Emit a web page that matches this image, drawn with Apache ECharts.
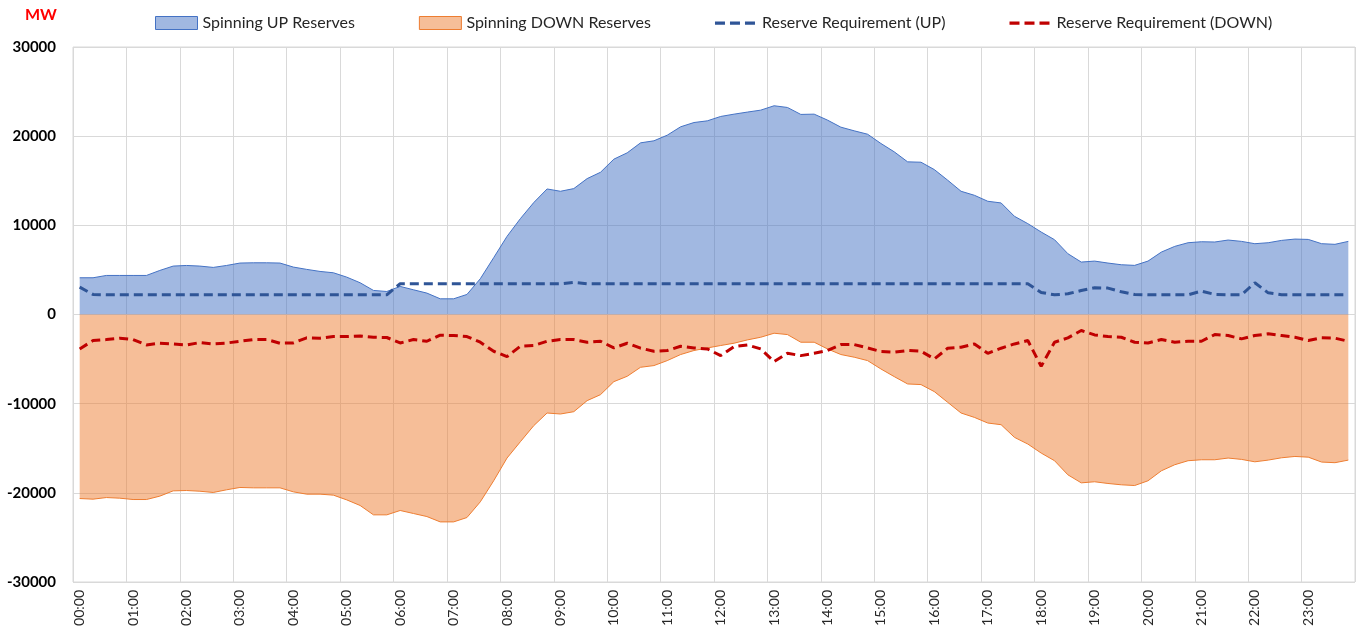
<!DOCTYPE html>
<html>
<head>
<meta charset="utf-8">
<script src="https://cdn.jsdelivr.net/npm/echarts@6/dist/echarts.min.js"></script>
<style>
  html, body { margin: 0; padding: 0; background: #fff; }
  #chart { width: 1361px; height: 635px; }
</style>
</head>
<body>
<div id="chart"></div>
<script>
// 15 minute steps, 00:00 .. 23:45
const times = []
for (let h = 0; h < 24; h++) {
  for (let m = 0; m < 60; m += 15) {
    times.push(String(h).padStart(2, '0') + ':' + String(m).padStart(2, '0'))
  }
}

const spinUp = [
  4120, 4120, 4380, 4380, 4380, 4380, 4940, 5430, 5500, 5430, 5280, 5500,
  5770, 5800, 5800, 5770, 5320, 5060, 4830, 4680, 4190, 3560, 2700, 2580,
  3150, 2770, 2400, 1760, 1760, 2250, 4010, 6370, 8760, 10750, 12550, 14080,
  13820, 14120, 15240, 15950, 17420, 18130, 19250, 19480, 20110, 21050, 21530, 21720,
  22210, 22470, 22700, 22920, 23410, 23220, 22440, 22470, 21800, 21010, 20600, 20220,
  19180, 18240, 17120, 17080, 16250, 15060, 13820, 13370, 12700, 12510, 11010, 10190,
  9250, 8390, 6820, 5880, 5990, 5770, 5580, 5510, 5990, 7000, 7640, 8050,
  8160, 8130, 8350, 8200, 7940, 8050, 8310, 8460, 8420, 7940, 7870, 8200
]

const spinDown = [
  -20640, -20710, -20530, -20600, -20750, -20750, -20370, -19780, -19740, -19820, -19960, -19660,
  -19400, -19440, -19440, -19440, -19890, -20150, -20150, -20260, -20790, -21420, -22470, -22470,
  -21980, -22320, -22660, -23260, -23260, -22770, -21010, -18650, -16100, -14270, -12470, -11050,
  -11160, -10900, -9660, -8990, -7530, -6930, -5920, -5730, -5170, -4490, -4040, -3750,
  -3480, -3220, -2850, -2550, -2100, -2250, -3110, -3110, -3860, -4490, -4790, -5170,
  -6110, -6970, -7790, -7860, -8650, -9850, -11050, -11540, -12170, -12360, -13780, -14530,
  -15540, -16400, -17980, -18880, -18760, -18950, -19100, -19180, -18650, -17530, -16850, -16400,
  -16290, -16290, -16100, -16250, -16520, -16330, -16070, -15920, -16000, -16550, -16620, -16330
]

const reqUp = [
  3070, 2250, 2210, 2210, 2210, 2210, 2210, 2210, 2210, 2210, 2210, 2210,
  2210, 2210, 2210, 2210, 2210, 2210, 2210, 2210, 2210, 2210, 2210, 2210,
  3450, 3450, 3450, 3450, 3450, 3450, 3450, 3450, 3450, 3450, 3450, 3450,
  3450, 3600, 3450, 3450, 3450, 3450, 3450, 3450, 3450, 3450, 3450, 3450,
  3450, 3450, 3450, 3450, 3450, 3450, 3450, 3450, 3450, 3450, 3450, 3450,
  3450, 3450, 3450, 3450, 3450, 3450, 3450, 3450, 3450, 3450, 3450, 3450,
  2470, 2210, 2320, 2690, 3000, 2960, 2550, 2250, 2210, 2210, 2210, 2210,
  2620, 2250, 2210, 2210, 3560, 2430, 2210, 2210, 2210, 2210, 2210, 2210
]

const reqDown = [
  -3860, -2920, -2810, -2660, -2810, -3410, -3220, -3300, -3410, -3150, -3300, -3200,
  -3000, -2810, -2810, -3220, -3190, -2620, -2660, -2470, -2470, -2400, -2550, -2580,
  -3190, -2810, -3000, -2320, -2360, -2470, -3110, -4120, -4720, -3560, -3480, -3000,
  -2810, -2810, -3110, -3000, -3750, -3220, -3780, -4120, -4040, -3560, -3750, -3860,
  -4610, -3600, -3410, -3860, -5280, -4350, -4610, -4350, -4040, -3370, -3370, -3750,
  -4160, -4230, -4040, -4120, -4980, -3780, -3670, -3300, -4350, -3780, -3300, -2920,
  -5810, -3110, -2620, -1800, -2290, -2470, -2550, -3110, -3190, -2810, -3110, -3000,
  -3000, -2250, -2360, -2730, -2360, -2170, -2360, -2550, -2920, -2620, -2660, -3000
]

const yTicks = { min: -30000, max: 30000, interval: 10000 }

const fontFamily = 'Lato, "Open Sans", sans-serif'

// three dashes, with tiny corner marks so the box keeps a 42x13 shape
const dashIcon = 'path://M0,0h0.05v0.05h-0.05z M0,5h10v3.2h-10z M15,5h10v3.2h-10z M30,5h10v3.2h-10z M41.95,12.95h0.05v0.05h-0.05z'

const chart = echarts.init(document.getElementById('chart'))
chart.setOption({
  animation: false,
  textStyle: { fontFamily: fontFamily },
  title: {
    text: 'MW',
    left: 20,
    top: 2,
    textStyle: { color: '#FF0000', fontSize: 16, fontWeight: 'bold', fontFamily: fontFamily }
  },
  legend: {
    left: 150,
    top: 10,
    itemGap: 64,
    itemWidth: 42,
    itemHeight: 13,
    textStyle: { color: '#262626', fontSize: 16, fontFamily: fontFamily },
    data: [
      {
        name: 'Spinning UP Reserves',
        icon: 'rect',
        itemStyle: { color: '#A1B8E1', borderColor: '#4472C4', borderWidth: 1 }
      },
      {
        name: 'Spinning DOWN Reserves',
        icon: 'rect',
        itemStyle: { color: '#F6BE98', borderColor: '#ED7D31', borderWidth: 1 }
      },
      { name: 'Reserve Requirement (UP)', icon: dashIcon },
      { name: 'Reserve Requirement (DOWN)', icon: dashIcon }
    ]
  },
  grid: {
    left: 73,
    right: 6,
    top: 47,
    bottom: 53,
    show: true,
    borderColor: '#D9D9D9',
    borderWidth: 1
  },
  xAxis: {
    type: 'category',
    data: times,
    boundaryGap: true,
    axisLine: { show: false },
    axisTick: { show: false },
    axisLabel: {
      interval: 3,
      rotate: 90,
      margin: 8,
      color: '#262626',
      fontSize: 14,
      fontFamily: fontFamily
    },
    splitLine: {
      show: true,
      interval: 3,
      lineStyle: { color: '#D9D9D9', width: 1 }
    }
  },
  yAxis: {
    type: 'value',
    min: yTicks.min,
    max: yTicks.max,
    interval: yTicks.interval,
    axisLine: { show: false },
    axisTick: { show: false },
    axisLabel: {
      margin: 17,
      color: '#000',
      fontSize: 15,
      fontWeight: 'bold',
      fontFamily: fontFamily,
      formatter: v => String(v)
    },
    splitLine: { lineStyle: { color: '#D9D9D9', width: 1 } }
  },
  series: [
    {
      name: 'Spinning UP Reserves',
      type: 'line',
      data: spinUp,
      symbol: 'none',
      lineStyle: { color: '#4472C4', width: 1 },
      itemStyle: { color: '#4472C4' },
      areaStyle: { color: '#4472C4', opacity: 0.5 },
      z: 1
    },
    {
      name: 'Spinning DOWN Reserves',
      type: 'line',
      data: spinDown,
      symbol: 'none',
      lineStyle: { color: '#ED7D31', width: 1 },
      itemStyle: { color: '#ED7D31' },
      areaStyle: { color: '#ED7D31', opacity: 0.5 },
      z: 1
    },
    {
      name: 'Reserve Requirement (UP)',
      type: 'line',
      data: reqUp,
      symbol: 'none',
      lineStyle: { color: '#2F5597', width: 3, type: [9, 5] },
      itemStyle: { color: '#2F5597' },
      z: 3
    },
    {
      name: 'Reserve Requirement (DOWN)',
      type: 'line',
      data: reqDown,
      symbol: 'none',
      lineStyle: { color: '#C00000', width: 3, type: [9, 5] },
      itemStyle: { color: '#C00000' },
      z: 3
    }
  ]
})
</script>
</body>
</html>
